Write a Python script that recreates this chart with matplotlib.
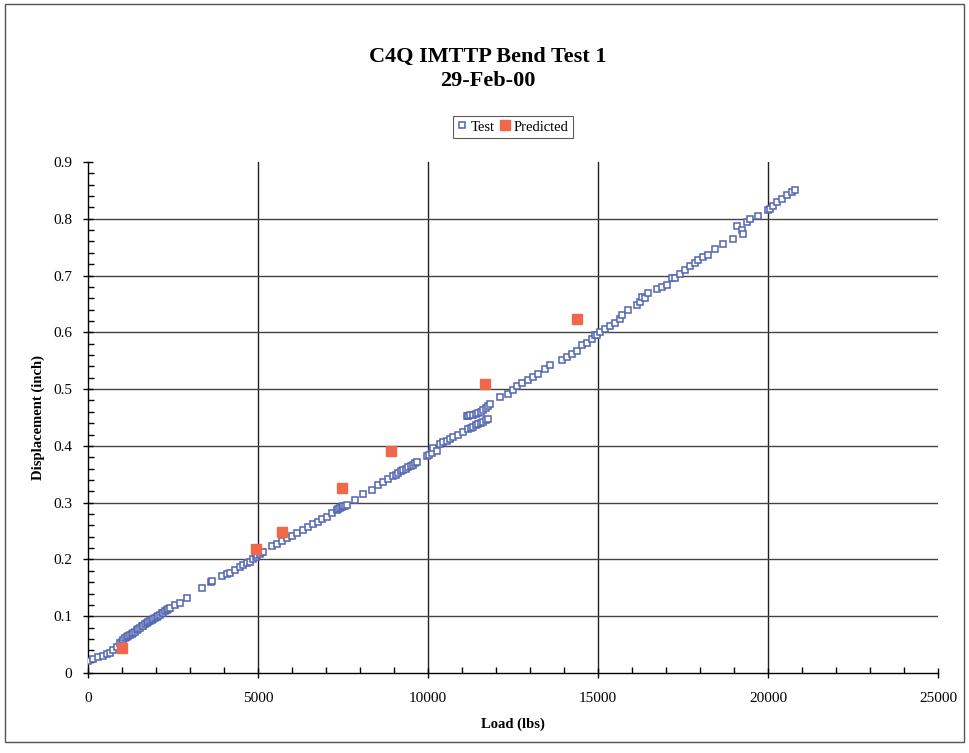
import matplotlib
matplotlib.use("Agg")
import matplotlib.pyplot as plt
from matplotlib.patches import Rectangle
from matplotlib.ticker import MultipleLocator, FixedLocator

plt.rcParams['font.family'] = ['Liberation Serif', 'DejaVu Serif']

title_text = "C4Q IMTTP Bend Test 1\n29-Feb-00"
x_label = "Load (lbs)"
y_label = "Displacement (inch)"
series_names = ["Test", "Predicted"]

test_load = [10, 156, 304, 451, 549, 647, 745, 843, 941, 1000, 1039, 1090, 1137, 1190, 1235, 1290,
             1333, 1380, 1431, 1480, 1529, 1580, 1627, 1680, 1725, 1770, 1824, 1870, 1922, 1970,
             2020, 2070, 2118, 2170, 2216, 2260, 2314, 2360, 2412, 2559, 2706, 2902, 3343, 3618,
             3650, 3931, 4078, 4176, 4324, 4471, 4569, 4667, 4765, 4863, 4931, 4961, 5059, 5108,
             5157, 5402, 5549, 5696, 5843, 5990, 6137, 6333, 6480, 6627, 6774, 6873, 7020, 7167,
             7314, 7360, 7412, 7460, 7510, 7560, 7608, 7853, 8098, 8343, 8539, 8686, 8833, 8980,
             9050, 9127, 9200, 9275, 9350, 9422, 9500, 9569, 9620, 9667, 9961, 10030, 10108, 10157,
             10255, 10353, 10450, 10549, 10650, 10745, 10892, 11039, 11186, 11260, 11333, 11400,
             11480, 11560, 11627, 11700, 11775,
             11150, 11186, 11250, 11333, 11400, 11480, 11560, 11627, 11700, 11775, 11824,
             12118, 12363, 12510, 12608, 12755, 12951, 13098, 13245, 13441, 13588, 13931, 14078,
             14225, 14373, 14520, 14667, 14814, 14912, 14961, 15059, 15206, 15353, 15500, 15647,
             15696, 15892, 16137, 16235, 16285, 16382, 16480, 16726, 16873, 17020, 17167, 17265,
             17412, 17559, 17706, 17853, 17951, 18098, 18245, 18441, 18686, 18980, 19078, 19225,
             19275, 19373, 19471, 19716, 20010, 20059, 20157, 20255, 20402, 20549, 20696, 20794]
test_disp = [0.0217, 0.0246, 0.0276, 0.0305, 0.033, 0.0358, 0.0405, 0.046, 0.053, 0.055, 0.058, 0.061,
             0.063, 0.065, 0.067, 0.069, 0.071, 0.073, 0.0757, 0.078, 0.0798, 0.082, 0.0833, 0.086,
             0.0875, 0.089, 0.0915, 0.093, 0.095, 0.097, 0.099, 0.101, 0.103, 0.105, 0.1063, 0.109,
             0.111, 0.113, 0.115, 0.12, 0.124, 0.1326, 0.150, 0.160, 0.162, 0.170, 0.174, 0.177,
             0.181, 0.186, 0.190, 0.193, 0.196, 0.200, 0.205, 0.2077, 0.2095, 0.2136, 0.2135,
             0.2236, 0.228, 0.233, 0.237, 0.242, 0.246, 0.252, 0.2565, 0.2618, 0.266, 0.2706,
             0.275, 0.281, 0.287, 0.289, 0.291, 0.293, 0.294, 0.295, 0.296, 0.3046, 0.315, 0.323,
             0.331, 0.3357, 0.341, 0.347, 0.349, 0.352, 0.355, 0.357, 0.360, 0.362, 0.365, 0.367,
             0.369, 0.372, 0.382, 0.384, 0.387, 0.3955, 0.3914, 0.403, 0.406, 0.409, 0.412, 0.415,
             0.419, 0.424, 0.429, 0.431, 0.4336, 0.436, 0.438, 0.440, 0.442, 0.445, 0.447,
             0.452, 0.453, 0.454, 0.455, 0.456, 0.458, 0.460, 0.463, 0.466, 0.470, 0.4736,
             0.4854, 0.491, 0.498, 0.506, 0.510, 0.516, 0.522, 0.526, 0.535, 0.542, 0.552, 0.557,
             0.5627, 0.568, 0.5775, 0.5815, 0.5875, 0.595, 0.595, 0.601, 0.6056, 0.611, 0.6157,
             0.623, 0.630, 0.639, 0.648, 0.654, 0.663, 0.660, 0.669, 0.677, 0.679, 0.683, 0.696,
             0.695, 0.7036, 0.7095, 0.7165, 0.722, 0.727, 0.732, 0.736, 0.746, 0.756, 0.765,
             0.787, 0.780, 0.774, 0.795, 0.799, 0.8046, 0.815, 0.818, 0.822, 0.830, 0.835, 0.841,
             0.847, 0.850]

pred_load = [1000, 4950, 5700, 7470, 8910, 11680, 14380]
pred_disp = [0.044, 0.218, 0.248, 0.326, 0.391, 0.509, 0.623]

x_ticks = [0, 5000, 10000, 15000, 20000, 25000]
y_ticks = [0, 0.1, 0.2, 0.3, 0.4, 0.5, 0.6, 0.7, 0.8, 0.9]
y_tick_labels = ["0", "0.1", "0.2", "0.3", "0.4", "0.5", "0.6", "0.7", "0.8", "0.9"]

W, H = 969, 753
fig = plt.figure(figsize=(W / 100, H / 100), dpi=100)
fig.patch.set_facecolor("white")
fig.add_artist(Rectangle((5 / W, 1 - 742 / H), 959 / W, 738 / H, transform=fig.transFigure,
                         fill=False, edgecolor="#555555", linewidth=1.0))

ax = fig.add_axes([88 / W, 1 - 673 / H, 850 / W, 511 / H])
ax.set_xlim(0, 25000)
ax.set_ylim(0, 0.9)

# gridlines (interior only)
for xv in x_ticks[1:-1]:
    ax.axvline(xv, color="#222222", linewidth=1.0, zorder=1)
for yv in y_ticks[1:-1]:
    ax.axhline(yv, color="#444444", linewidth=1.0, zorder=1)

ax.plot(test_load, test_disp, linestyle="none", marker="s", markersize=4.8,
        markerfacecolor="white", markeredgecolor="#5165b0", markeredgewidth=1.1,
        label=series_names[0], zorder=3)
ax.plot(pred_load, pred_disp, linestyle="none", marker="s", markersize=6.8,
        markerfacecolor="#f0684a", markeredgecolor="#f0684a", label=series_names[1], zorder=4)

ax.xaxis.set_major_locator(FixedLocator(x_ticks))
ax.yaxis.set_major_locator(FixedLocator(y_ticks))
ax.set_yticklabels(y_tick_labels)
ax.xaxis.set_minor_locator(MultipleLocator(1000))
ax.yaxis.set_minor_locator(MultipleLocator(0.02))
ax.tick_params(axis="both", which="major", direction="inout", length=7, width=1, labelsize=11,
               colors="black", pad=6)
ax.tick_params(axis="both", which="minor", direction="in", length=4, width=1)
ax.tick_params(axis="x", which="major", pad=10)
ax.tick_params(axis="y", which="major", pad=8)

for s in ["top", "right"]:
    ax.spines[s].set_visible(False)
for s in ["left", "bottom"]:
    ax.spines[s].set_color("black")
    ax.spines[s].set_linewidth(1.0)

ax.set_xlabel(x_label, fontsize=10.5, fontweight="bold", labelpad=9)
ax.set_ylabel(y_label, fontsize=10.5, fontweight="bold", labelpad=6)

fig.text(488 / W, 1 - 69 / H, title_text, ha="center", va="center", fontsize=16,
         fontweight="bold", linespacing=1.25)

leg = fig.legend(loc="center", bbox_to_anchor=(513 / W, 1 - 127 / H), ncol=2, frameon=True,
                 fancybox=False, edgecolor="#333333", fontsize=10.5, handlelength=0.6,
                 handletextpad=0.3, columnspacing=0.4, borderpad=0.3, markerscale=1.0)
leg.get_frame().set_linewidth(0.8)

fig.savefig("out.png", dpi=100, facecolor="white")
